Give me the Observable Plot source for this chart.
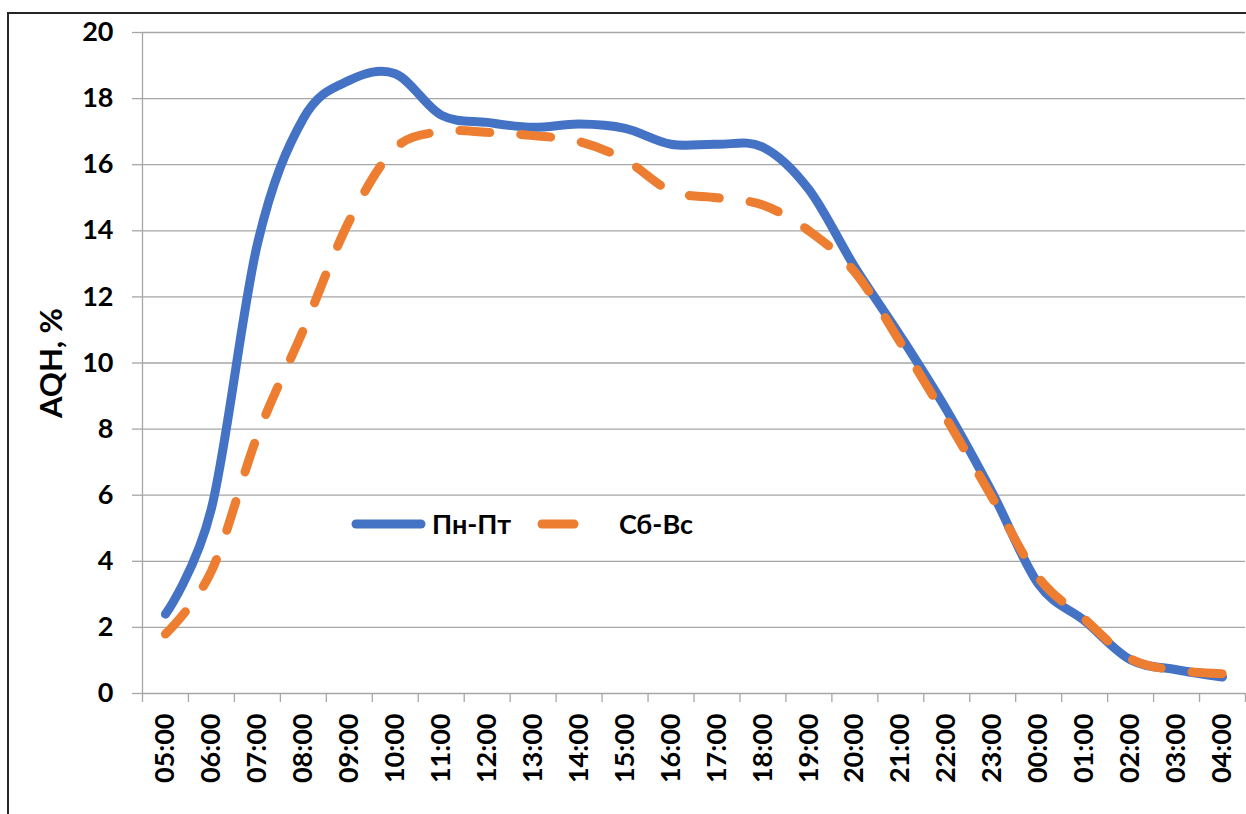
<!DOCTYPE html>
<html>
<head>
<meta charset="utf-8">
<script src="https://cdn.jsdelivr.net/npm/d3@7"></script>
<script src="https://cdn.jsdelivr.net/npm/@observablehq/plot@0.6"></script>
<style>
  html, body { margin: 0; padding: 0; background: #fff; }
  #wrap { position: relative; width: 1246px; height: 814px; overflow: hidden; }
  #frame { position: absolute; left: 7px; top: 12px; width: 1300px; height: 900px;
           border-left: 2px solid #262626; border-top: 2px solid #262626; box-sizing: border-box; }
  #chart { position: absolute; left: 0; top: 0; }
  #chart svg { font-family: Lato, "Open Sans", sans-serif; font-weight: bold; color: #000; }
  #chart [aria-label="y-axis label"] text { font-size: 31px !important; }
  #legend { position: absolute; left: 0; top: 0; }
  #legend text { font-family: Lato, "Open Sans", sans-serif; font-weight: bold; font-size: 27px; fill: #000; }
</style>
</head>
<body>
<div id="wrap">
  <div id="frame"></div>
  <div id="chart"></div>
  <svg id="legend" width="1246" height="814"></svg>
</div>
<script>
// Hours (categories)
const hours = ["05:00","06:00","07:00","08:00","09:00","10:00","11:00","12:00","13:00","14:00","15:00","16:00",
               "17:00","18:00","19:00","20:00","21:00","22:00","23:00","00:00","01:00","02:00","03:00","04:00"];
// Series: Пн-Пт (weekdays)
const weekdays = [2.4, 5.6, 13.6, 17.4, 18.55, 18.75, 17.5, 17.28, 17.13, 17.23, 17.1, 16.62,
                  16.62, 16.53, 15.25, 12.9, 10.8, 8.57, 6.05, 3.3, 2.2, 1.02, 0.72, 0.5];
// Series: Сб-Вс (weekend)
const weekend  = [1.8, 3.7, 7.8, 11.0, 14.3, 16.5, 17.0, 16.98, 16.88, 16.7, 16.15, 15.2,
                  15.0, 14.78, 14.0, 12.75, 10.6, 8.3, 5.9, 3.5, 2.25, 1.05, 0.7, 0.6];
const seriesNames = ["Пн-Пт", "Сб-Вс"];
const seriesColors = ["#4472C4", "#ED7D31"];
const yTicks = [0, 2, 4, 6, 8, 10, 12, 14, 16, 18, 20];
const yTitle = "AQH, %";

const idx = hours.map((h, i) => i);
const boundaries = d3.range(hours.length + 1).map(i => i - 0.5);
const rows1 = weekdays.map((v, i) => ({i, v}));
const rows2 = weekend.map((v, i) => ({i, v}));
const grey = "#a6a6a6";

const chart = Plot.plot({
  width: 1246,
  height: 814,
  marginLeft: 142,
  marginRight: 1,
  marginTop: 32,
  marginBottom: 121,
  x: {type: "linear", domain: [-0.5, hours.length - 0.5]},
  y: {domain: [0, 20]},
  marks: [
    Plot.gridY(yTicks, {stroke: grey, strokeOpacity: 1, strokeWidth: 1.3}),
    Plot.axisY(yTicks, {tickSize: 10, tickPadding: 19, stroke: grey, strokeOpacity: 1, strokeWidth: 1.3,
      fontSize: 27, fontWeight: "bold", label: yTitle, labelAnchor: "center", labelArrow: false, labelOffset: 103}),
    Plot.ruleX([-0.5], {y1: 0, y2: 20, stroke: grey, strokeWidth: 1.3}),
    Plot.axisX(boundaries, {tickSize: 9, stroke: grey, strokeOpacity: 1, strokeWidth: 1.3,
      tickFormat: () => "", label: null}),
    Plot.axisX(idx, {tickSize: 0, tickPadding: 20, tickRotate: -90, tickFormat: i => hours[i],
      fontSize: 27, fontWeight: "bold", label: null}),
    Plot.line(rows1, {x: "i", y: "v", stroke: seriesColors[0], strokeWidth: 9,
      curve: "cardinal", strokeLinecap: "round", strokeLinejoin: "round"}),
    Plot.line(rows2, {x: "i", y: "v", stroke: seriesColors[1], strokeWidth: 9,
      curve: "cardinal", strokeLinecap: "round", strokeLinejoin: "round", strokeDasharray: "30,31"})
  ]
});
document.getElementById("chart").appendChild(chart);

// Legend (inside plot area)
const leg = d3.select("#legend");
const legItems = [
  {name: seriesNames[0], color: seriesColors[0], x1: 356, x2: 421, tx: 432},
  {name: seriesNames[1], color: seriesColors[1], x1: 542, x2: 574, tx: 619}
];
legItems.forEach(d => {
  leg.append("line").attr("x1", d.x1).attr("x2", d.x2).attr("y1", 524).attr("y2", 524)
    .attr("stroke", d.color).attr("stroke-width", 9).attr("stroke-linecap", "round");
  leg.append("text").attr("x", d.tx).attr("y", 534).text(d.name);
});
</script>
</body>
</html>
